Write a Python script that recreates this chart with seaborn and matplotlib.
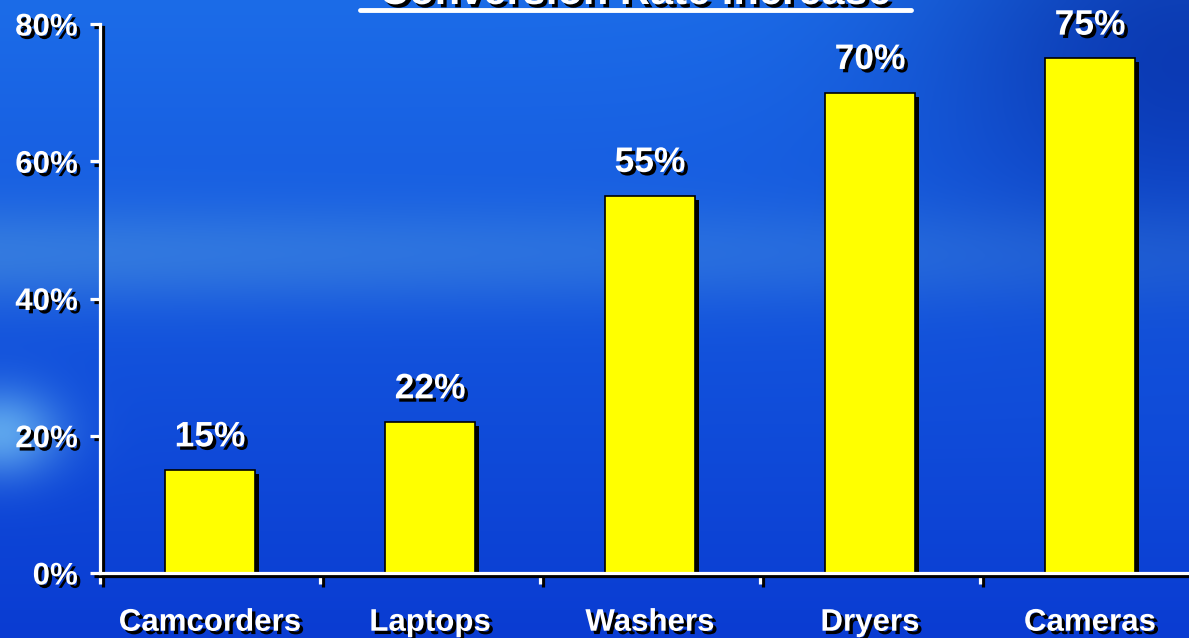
import numpy as np
import pandas as pd
import matplotlib
matplotlib.use("Agg")
import matplotlib.pyplot as plt
import matplotlib.patheffects as pe
import seaborn as sns

# =========================
# DATA
# =========================
categories = ["Camcorders", "Laptops", "Washers", "Dryers", "Cameras"]
rates = [15, 22, 55, 70, 75]
y_ticks = [0, 20, 40, 60, 80]
title = "Conversion Rate Increase"

df = pd.DataFrame({"product": categories, "rate": rates})

sns.set_style("white")
plt.rcParams["font.family"] = ["Liberation Sans", "DejaVu Sans"]
plt.rcParams["font.weight"] = "bold"

W, H = 1189, 638
fig = plt.figure(figsize=(W / 100, H / 100), dpi=100)

# =========================
# BACKGROUND (blue gradient)
# =========================
yy, xx = np.mgrid[0:1:200j, 0:1:360j]
base_top = np.array([28, 108, 232]) / 255
base_bot = np.array([10, 60, 210]) / 255
bg = base_top[None, None, :] * (1 - yy[..., None]) + base_bot[None, None, :] * yy[..., None]
# lighter horizontal band in the middle
band = np.exp(-((yy - 0.40) / 0.08) ** 2) * (0.4 + 0.6 * (1 - xx))
bg += band[..., None] * np.array([0.12, 0.13, 0.0])
# darker navy top right
dark = np.exp(-(((xx - 1.0) / 0.22) ** 2 + ((yy - 0.05) / 0.3) ** 2))
bg -= dark[..., None] * np.array([0.06, 0.18, 0.2])
# cyan glare left
glare = np.exp(-(((xx - 0.0) / 0.05) ** 2 + ((yy - 0.68) / 0.07) ** 2))
bg += glare[..., None] * np.array([0.3, 0.35, 0.08])
bg = np.clip(bg, 0, 1)

bg_ax = fig.add_axes([0, 0, 1, 1], zorder=0)
bg_ax.imshow(bg, aspect="auto", extent=[0, 1, 0, 1], interpolation="bicubic")
bg_ax.axis("off")

# =========================
# BAR CHART
# =========================
ax = fig.add_axes([100 / W, 65 / H, 1100 / W, 549 / H], zorder=1)
ax.patch.set_alpha(0)

sns.barplot(data=df, x="product", y="rate", color="#ffff00", width=0.41,
            edgecolor="black", linewidth=1.2, saturation=1, ax=ax)

shadow_txt = [pe.SimplePatchShadow(offset=(2.4, -2.4), shadow_rgbFace="black", alpha=1), pe.Normal()]
shadow_line = [pe.SimpleLineShadow(offset=(2.4, -2.4), shadow_color="black", alpha=1), pe.Normal()]

for bar in ax.patches:
    bar.set_path_effects([pe.SimplePatchShadow(offset=(3, -3), shadow_rgbFace="black", alpha=1), pe.Normal()])

for i, v in enumerate(rates):
    ax.annotate(f"{v}%", (i, v), xytext=(0, 12), textcoords="offset points",
                ha="center", va="bottom", color="white", fontsize=25.5,
                fontweight="bold", path_effects=shadow_txt)

ax.set_xlim(-0.5, len(categories) - 0.5)
ax.set_ylim(0, 80)
ax.set_yticks(y_ticks)
ax.set_yticklabels([f"{t}%" for t in y_ticks])
ax.set_xlabel("")
ax.set_ylabel("")

for s in ["top", "right"]:
    ax.spines[s].set_visible(False)
for s in ["left", "bottom"]:
    ax.spines[s].set_color("white")
    ax.spines[s].set_linewidth(2.3)
    ax.spines[s].set_path_effects(shadow_line)

ax.tick_params(axis="y", which="major", left=True, direction="out", length=7, width=2.3,
               color="white", pad=9, labelsize=22.5, labelcolor="white")
ax.tick_params(axis="x", which="major", bottom=True, length=0, pad=25, labelsize=22.5,
               labelcolor="white")
ax.set_xticks(np.arange(-0.5, len(categories), 1.0), minor=True)
ax.tick_params(axis="x", which="minor", bottom=True, direction="out", length=8, width=2.3,
               color="white")

for tick in ax.xaxis.get_minor_ticks() + ax.yaxis.get_major_ticks():
    tick.tick1line.set_path_effects(shadow_line)

for lbl in ax.get_xticklabels() + ax.get_yticklabels():
    lbl.set_fontweight("bold")
    lbl.set_path_effects(shadow_txt)

# =========================
# TITLE (cut off at the top, as in the slide)
# =========================
fig.text(635 / W, 1 - 4 / H, title, ha="center", va="baseline", color="white",
         fontsize=30, fontweight="bold", path_effects=shadow_txt)
fig.add_artist(plt.Line2D([360 / W, 911 / W], [1 - 10 / H, 1 - 10 / H], color="white",
                          linewidth=3.5, transform=fig.transFigure))

fig.savefig("out.png", dpi=100)
